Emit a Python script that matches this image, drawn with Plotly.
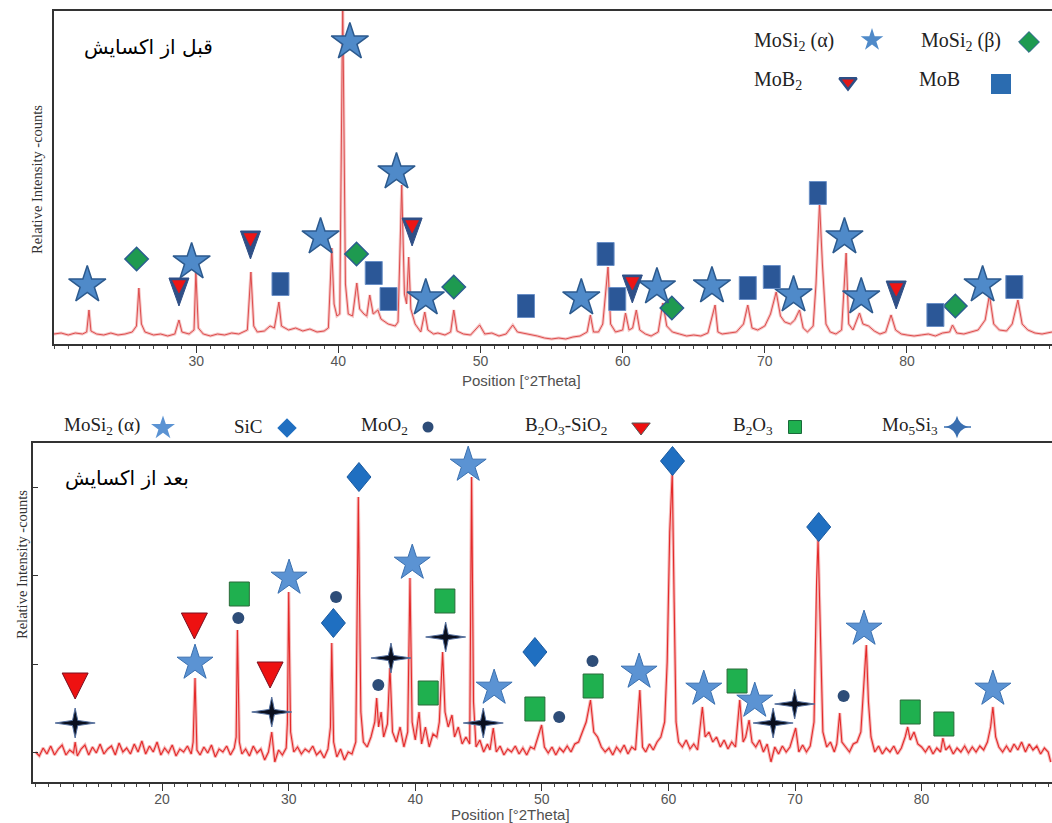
import plotly.graph_objects as go

W, H = 1052, 823

# ---------------- data: before oxidation (top panel) ----------------
top_trace = [
    (20.0, 10), (20.5, 11), (21.0, 9), (21.5, 11), (22.0, 10), (22.3, 12), (22.46, 34), (22.6, 13),
    (23.0, 10), (23.5, 9), (24.0, 11), (24.5, 9), (25.0, 10), (25.5, 12), (25.8, 18), (25.97, 56),
    (26.15, 20), (26.4, 12), (27.0, 9), (27.5, 10), (28.0, 8), (28.5, 10), (28.79, 24), (29.0, 12),
    (29.5, 10), (29.85, 14), (29.98, 72), (30.15, 16), (30.5, 10), (31.0, 8), (31.5, 10), (32.0, 9),
    (32.5, 11), (33.0, 10), (33.6, 14), (33.85, 72), (34.05, 18), (34.3, 12), (34.8, 13), (35.2, 18),
    (35.5, 16), (35.82, 42), (36.0, 18), (36.5, 14), (37.0, 16), (37.5, 13), (38.0, 15), (38.5, 12),
    (39.0, 13), (39.3, 16), (39.54, 96), (39.7, 40), (39.9, 28), (40.1, 30), (40.31, 345), (40.5, 60),
    (40.7, 30), (41.0, 28), (41.30, 61), (41.5, 35), (41.8, 30), (42.0, 28), (42.21, 49), (42.45, 30),
    (42.78, 34), (43.0, 25), (43.5, 20), (44.0, 18), (44.2, 22), (44.46, 159), (44.65, 50), (44.8, 40),
    (44.95, 87), (45.1, 35), (45.4, 20), (45.8, 12), (46.08, 32), (46.3, 14), (46.7, 10), (47.0, 11),
    (47.5, 9), (47.9, 12), (48.12, 34), (48.35, 13), (48.8, 10), (49.3, 9), (49.94, 19), (50.3, 10),
    (50.8, 11), (51.3, 8), (51.8, 10), (52.27, 19), (52.6, 12), (53.0, 11), (53.5, 9), (54.0, 8),
    (54.5, 6), (55.0, 5), (55.5, 6), (56.0, 5), (56.5, 7), (57.0, 8), (57.5, 12), (57.73, 29),
    (57.95, 12), (58.3, 12), (58.6, 20), (58.97, 77), (59.15, 20), (59.5, 12), (60.0, 14), (60.2, 31),
    (60.45, 14), (60.7, 16), (60.96, 34), (61.2, 14), (61.6, 10), (62.0, 8), (62.5, 12), (62.83, 41),
    (63.1, 18), (63.5, 12), (64.0, 10), (64.5, 8), (65.0, 9), (65.5, 8), (66.0, 11), (66.5, 39),
    (66.7, 12), (67.0, 10), (67.5, 11), (68.0, 12), (68.5, 20), (68.8, 39), (69.1, 16), (69.5, 14),
    (70.0, 18), (70.4, 30), (70.8, 52), (71.1, 28), (71.4, 22), (71.8, 20), (72.1, 24), (72.44, 34),
    (72.7, 16), (73.0, 12), (73.4, 18), (73.6, 60), (73.85, 141), (74.05, 80), (74.3, 20), (74.6, 12),
    (75.0, 10), (75.4, 14), (75.72, 91), (75.9, 20), (76.2, 14), (76.66, 31), (76.9, 20), (77.3, 18),
    (77.7, 13), (78.1, 10), (78.5, 12), (78.88, 29), (79.2, 14), (79.6, 10), (80.0, 9), (80.5, 8),
    (81.0, 9), (81.5, 10), (82.0, 8), (82.5, 11), (83.0, 12), (83.2, 19), (83.5, 11), (84.0, 10),
    (84.5, 12), (85.0, 14), (85.5, 24), (85.8, 49), (86.1, 20), (86.5, 14), (87.0, 13), (87.4, 20),
    (87.8, 44), (88.1, 20), (88.5, 14), (89.0, 11), (89.5, 10), (90.2, 12),
]

top_mosi2a_x = [22.34, 29.68, 38.75, 40.81, 44.09, 46.15, 57.09, 62.41, 66.28, 72.02, 75.6, 76.78, 85.32]
top_mosi2a_y = [59, 82, 107, 302, 172, 46, 46, 57, 58, 49, 107, 47, 59]
top_mosi2b_x = [25.81, 41.28, 48.12, 63.46, 83.4]
top_mosi2b_y = [85, 90, 57, 36, 38]
top_mob2_x = [28.79, 33.82, 45.19, 60.68, 79.24]
top_mob2_y = [54, 101, 114, 57, 51]
top_mob_x = [35.93, 42.49, 43.53, 53.2, 58.8, 59.62, 68.8, 70.49, 73.73, 82.0, 87.55]
top_mob_y = [60, 71, 45, 38, 90, 45, 56, 67, 151, 29, 57]

# ---------------- data: after oxidation (bottom panel) ----------------
bot_trace = [
    (10.0, 30), (10.3, 26), (10.6, 34), (10.9, 28), (11.2, 36), (11.5, 27), (11.8, 33), (12.1, 37),
    (12.4, 27), (12.7, 32), (13.0, 29), (13.13, 40), (13.3, 26), (13.6, 33), (13.9, 37), (14.2, 27),
    (14.5, 35), (14.8, 29), (15.1, 38), (15.4, 28), (15.7, 33), (16.0, 36), (16.3, 27), (16.6, 39),
    (16.9, 30), (17.2, 34), (17.5, 28), (17.8, 38), (18.1, 30), (18.4, 41), (18.7, 28), (19.0, 36),
    (19.3, 30), (19.6, 40), (19.9, 27), (20.2, 34), (20.5, 29), (20.8, 37), (21.1, 26), (21.4, 33),
    (21.7, 30), (22.0, 36), (22.3, 28), (22.45, 40), (22.6, 104), (22.75, 32), (23.0, 27), (23.3, 35),
    (23.6, 29), (23.9, 37), (24.2, 25), (24.5, 33), (24.8, 30), (25.1, 36), (25.4, 27), (25.7, 34),
    (25.85, 45), (25.95, 152), (26.1, 40), (26.3, 28), (26.6, 33), (26.9, 26), (27.2, 36), (27.5, 29),
    (27.8, 33), (28.1, 22), (28.4, 30), (28.66, 50), (28.9, 20), (29.2, 32), (29.5, 27), (29.8, 34),
    (29.9, 60), (30.0, 190), (30.15, 50), (30.4, 30), (30.7, 35), (31.0, 28), (31.3, 33), (31.6, 30),
    (31.9, 36), (32.2, 27), (32.5, 31), (32.8, 24), (33.1, 33), (33.3, 55), (33.4, 139), (33.55, 40),
    (33.8, 25), (34.1, 33), (34.4, 22), (34.7, 30), (35.0, 28), (35.3, 40), (35.5, 285), (35.7, 70),
    (35.9, 40), (36.2, 35), (36.5, 45), (36.8, 60), (36.95, 84), (37.1, 55), (37.3, 70), (37.5, 45),
    (37.8, 58), (38.0, 114), (38.2, 50), (38.5, 40), (38.8, 55), (39.1, 35), (39.4, 50), (39.58, 204),
    (39.75, 60), (40.0, 42), (40.3, 70), (40.5, 38), (40.8, 55), (41.1, 35), (41.4, 48), (41.7, 45),
    (41.9, 60), (42.16, 130), (42.35, 70), (42.6, 55), (42.9, 67), (43.1, 45), (43.4, 55), (43.7, 38),
    (44.0, 45), (44.3, 38), (44.45, 305), (44.6, 80), (44.8, 35), (45.1, 42), (45.4, 30), (45.7, 38),
    (45.9, 32), (46.16, 54), (46.4, 30), (46.7, 36), (47.0, 27), (47.3, 33), (47.6, 30), (47.9, 36),
    (48.2, 28), (48.5, 34), (48.8, 27), (49.1, 35), (49.4, 33), (49.7, 45), (49.98, 57), (50.2, 35),
    (50.5, 29), (50.8, 35), (51.1, 27), (51.4, 34), (51.7, 30), (52.0, 36), (52.3, 30), (52.6, 38),
    (52.9, 40), (53.2, 50), (53.5, 60), (53.84, 82), (54.1, 50), (54.4, 45), (54.7, 35), (55.0, 30),
    (55.3, 34), (55.6, 27), (55.9, 35), (56.2, 30), (56.5, 37), (56.8, 28), (57.1, 35), (57.4, 32),
    (57.74, 92), (57.95, 35), (58.2, 30), (58.5, 38), (58.8, 32), (59.1, 40), (59.4, 45), (59.7, 60),
    (59.9, 120), (60.1, 250), (60.3, 309), (60.45, 180), (60.6, 60), (60.8, 40), (61.1, 35), (61.4, 42),
    (61.7, 33), (62.0, 38), (62.3, 32), (62.68, 75), (62.9, 45), (63.2, 50), (63.5, 40), (63.8, 45),
    (64.1, 35), (64.4, 42), (64.7, 33), (65.0, 40), (65.3, 35), (65.63, 82), (65.9, 40), (66.1, 45),
    (66.37, 62), (66.6, 40), (66.9, 35), (67.2, 42), (67.5, 30), (67.8, 38), (68.1, 20), (68.4, 35),
    (68.7, 28), (69.0, 36), (69.3, 30), (69.6, 35), (70.05, 54), (70.3, 30), (70.6, 37), (70.9, 30),
    (71.2, 36), (71.5, 60), (71.7, 200), (71.82, 242), (72.0, 150), (72.2, 50), (72.5, 35), (72.8, 40),
    (73.1, 30), (73.3, 38), (73.53, 69), (73.7, 40), (74.0, 35), (74.3, 30), (74.6, 38), (74.9, 40),
    (75.2, 50), (75.45, 100), (75.63, 137), (75.8, 80), (76.0, 45), (76.3, 30), (76.6, 36), (76.9, 28),
    (77.2, 34), (77.5, 30), (77.8, 36), (78.1, 28), (78.4, 34), (78.7, 45), (78.9, 55), (79.1, 42),
    (79.4, 50), (79.7, 38), (80.0, 35), (80.3, 30), (80.6, 36), (80.9, 28), (81.2, 34), (81.5, 30),
    (81.68, 44), (81.9, 32), (82.2, 36), (82.5, 28), (82.8, 34), (83.1, 30), (83.4, 36), (83.7, 29),
    (84.0, 35), (84.3, 30), (84.6, 36), (84.9, 32), (85.2, 40), (85.45, 55), (85.63, 75), (85.85, 45),
    (86.1, 35), (86.4, 30), (86.7, 36), (87.0, 30), (87.3, 38), (87.6, 32), (87.9, 40), (88.2, 30),
    (88.5, 38), (88.8, 32), (89.1, 36), (89.4, 28), (89.7, 34), (90.0, 30), (90.2, 20),
]

bot_mosi2a_x = [22.6, 30.03, 39.76, 44.18, 46.23, 57.68, 62.79, 66.82, 75.45, 85.63]
bot_mosi2a_y = [119, 204, 219, 317, 94, 110, 93, 81, 153, 93]
bot_sic_x = [33.53, 35.55, 49.45, 60.32, 71.87]
bot_sic_y = [159, 305, 130, 321, 255]
bot_moo2_x = [26.02, 33.74, 37.08, 51.37, 54.0, 73.84]
bot_moo2_y = [164, 185, 97, 65, 121, 86]
bot_b2o3sio2_x = [13.13, 22.55, 28.53]
bot_b2o3sio2_y = [97, 157, 108]
bot_b2o3_x = [26.1, 41.02, 42.34, 49.45, 54.05, 65.42, 79.1, 81.76]
bot_b2o3_y = [188, 89, 181, 73, 96, 101, 70, 58]
bot_mo5si3_x = [13.13, 28.66, 38.08, 42.4, 45.37, 68.27, 69.97]
bot_mo5si3_y = [59, 70, 124, 145, 59, 59, 78]

x_ticks_top = [30, 40, 50, 60, 70, 80]
x_ticks_bot = [20, 30, 40, 50, 60, 70, 80]

# ---------------- figure ----------------
fig = go.Figure()
shapes = []


def px_x(p):
    return p / W


def px_y(p):
    return 1 - p / H


# traces: light underlay + thin red line (scanned XRD look)
fig.add_trace(go.Scatter(x=[p[0] for p in top_trace], y=[p[1] for p in top_trace], mode="lines",
                         line=dict(color="rgba(236,150,150,0.55)", width=3), xaxis="x", yaxis="y",
                         hoverinfo="skip"))
fig.add_trace(go.Scatter(x=[p[0] for p in top_trace], y=[p[1] for p in top_trace], mode="lines",
                         line=dict(color="#de4d4d", width=1), xaxis="x", yaxis="y", hoverinfo="skip"))
fig.add_trace(go.Scatter(x=[p[0] for p in bot_trace], y=[p[1] for p in bot_trace], mode="lines",
                         line=dict(color="rgba(238,140,140,0.6)", width=3.2), xaxis="x2", yaxis="y2",
                         hoverinfo="skip"))
fig.add_trace(go.Scatter(x=[p[0] for p in bot_trace], y=[p[1] for p in bot_trace], mode="lines",
                         line=dict(color="#e42a2a", width=1.1), xaxis="x2", yaxis="y2", hoverinfo="skip"))


def mk(x, y, ax, ay, symbol, size, color, lcolor, lwidth):
    fig.add_trace(go.Scatter(x=x, y=y, mode="markers", xaxis=ax, yaxis=ay, cliponaxis=False,
                             marker=dict(symbol=symbol, size=size, color=color,
                                         line=dict(color=lcolor, width=lwidth)), hoverinfo="skip"))


def path_of(pts):
    return "M" + "L".join(f"{a},{b}" for a, b in pts) + "Z"


def glyph(xs, ys, xref, yref, pts, fill, lcolor, lwidth):
    # glyph drawn at each data point (anchor in data units, outline in pixels)
    for xv, yv in zip(xs, ys):
        shapes.append(dict(type="path", xref=xref, yref=yref, xsizemode="pixel", ysizemode="pixel",
                           xanchor=xv, yanchor=yv, path=path_of(pts), fillcolor=fill,
                           line=dict(color=lcolor, width=lwidth), layer="above"))


# glyph outlines (pixel offsets, y up)
TALL_TRI = [(-10, 12), (10, 12), (0, -16)]
TALL_TRI_IN = [(-6.5, 9.5), (6.5, 9.5), (0, -3)]
RECT_T = [(-8.5, -11.5), (8.5, -11.5), (8.5, 11.5), (-8.5, 11.5)]
TRI_B = [(-13, 12), (13, 12), (0, -14)]
RECT_B = [(-10, -12), (10, -12), (10, 12), (-10, 12)]
DIAM_B = [(-12, 0), (0, 14.5), (12, 0), (0, -14.5)]
STAR4 = [(-20, 0), (-2.6, 2.6), (0, 15), (2.6, 2.6), (20, 0), (2.6, -2.6), (0, -15), (-2.6, -2.6)]

# top markers
mk(top_mosi2b_x, top_mosi2b_y, "x", "y", "diamond", 18, "#1e9a50", "#2b5d8f", 1.5)
mk(top_mosi2a_x, top_mosi2a_y, "x", "y", "star", 28, "#4f8ac9", "#2c5a8e", 1.5)
glyph(top_mob_x, top_mob_y, "x", "y", RECT_T, "#2b5797", "#6a8fc6", 1)
glyph(top_mob2_x, top_mob2_y, "x", "y", TALL_TRI, "#2f4f86", "#2f4f86", 1)
glyph(top_mob2_x, top_mob2_y, "x", "y", TALL_TRI_IN, "#ee1515", "#ee1515", 0.5)

# bottom markers
mk(bot_moo2_x, bot_moo2_y, "x2", "y2", "circle", 12, "#2e4d78", "#2e4d78", 0)
mk(bot_mosi2a_x, bot_mosi2a_y, "x2", "y2", "star", 27, "#5b93d3", "#3a70b0", 1)
glyph(bot_b2o3_x, bot_b2o3_y, "x2", "y2", RECT_B, "#1fb04f", "#2a6a3a", 1)
glyph(bot_sic_x, bot_sic_y, "x2", "y2", DIAM_B, "#1f6fc1", "#1a5aa0", 1)
glyph(bot_b2o3sio2_x, bot_b2o3sio2_y, "x2", "y2", TRI_B, "#ee1111", "#7a1020", 1)
glyph(bot_mo5si3_x, bot_mo5si3_y, "x2", "y2", STAR4, "#0a0f1e", "#56719f", 1)


# legend keys (overlay axis in pixel units)
def key(xp, yp, symbol, size, color, lcolor, lwidth):
    mk([xp], [yp], "x3", "y3", symbol, size, color, lcolor, lwidth)


key(872, 40, "star", 17, "#4f8ac9", "#4f8ac9", 0)
key(1029, 42, "diamond", 16, "#1e9a50", "#2b5d8f", 1)
key(848, 82, "triangle-down", 15, "#e01818", "#2d4f86", 2.5)
key(1001, 84, "square", 20, "#2b6cb0", "#2b6cb0", 0)
key(163, 428, "star", 18, "#5b93d3", "#5b93d3", 0)
key(287, 428, "diamond", 15, "#1f6fc1", "#1f6fc1", 0)
key(428, 427, "circle", 11, "#2e4d78", "#2e4d78", 0)
key(641, 427, "triangle-down", 16, "#ee1111", "#555555", 1)
key(795, 427, "square", 13, "#1fb04f", "#1a6a3a", 1)
fig.add_trace(go.Scatter(x=[944, 971], y=[427, 427], mode="lines", xaxis="x3", yaxis="y3",
                         line=dict(color="#3a6fb0", width=1.5), hoverinfo="skip"))
key(957, 427, "star-diamond", 16, "#3a6fb0", "#3a6fb0", 0)

# ---------------- layout ----------------
AX_LINE = "#333333"
TICKFONT = dict(family="Liberation Sans, Arial", size=14, color="#555555")

common_x = dict(showline=True, linecolor=AX_LINE, linewidth=2, mirror=True, ticks="outside",
                ticklen=7, tickcolor=AX_LINE, tickfont=TICKFONT, showgrid=False, zeroline=False,
                ticklabelstandoff=-4,
                minor=dict(dtick=1, ticks="outside", ticklen=3, tickcolor="#444444", showgrid=False))

fig.update_layout(
    width=W, height=H, margin=dict(l=0, r=0, t=0, b=0),
    paper_bgcolor="white", plot_bgcolor="rgba(0,0,0,0)", showlegend=False,
    xaxis=dict(domain=[px_x(54), 1], range=[20, 90.2], anchor="y", tickvals=x_ticks_top, **common_x),
    yaxis=dict(domain=[px_y(344), px_y(11)], range=[0, 333], anchor="x", showline=True,
               linecolor=AX_LINE, linewidth=2, showticklabels=False, ticks="", showgrid=False,
               zeroline=False),
    xaxis2=dict(domain=[px_x(33), 1], range=[9.8, 90.3], anchor="y2", tickvals=x_ticks_bot, **common_x),
    yaxis2=dict(domain=[px_y(782), px_y(443)], range=[0, 339], anchor="x2", showline=True,
                linecolor=AX_LINE, linewidth=2, showticklabels=False, ticks="inside", ticklen=5,
                tickcolor=AX_LINE, tick0=29.5, dtick=88.3, showgrid=False, zeroline=False),
    xaxis3=dict(domain=[0, 1], range=[0, W], anchor="y3", visible=False),
    yaxis3=dict(domain=[0, 1], range=[H, 0], anchor="x3", visible=False),
    shapes=shapes,
)

SERIF = "Liberation Serif, DejaVu Serif, Times New Roman"
ann = []


def text(xp, yp, s, size=20, family=SERIF, color="#222222", xanchor="left", textangle=0):
    ann.append(dict(x=xp, y=yp, xref="x3", yref="y3", text=s, showarrow=False, xanchor=xanchor,
                    yanchor="middle", textangle=textangle,
                    font=dict(family=family, size=size, color=color)))


# legends
text(752, 41, "MoSi<sub>2</sub> (α)")
text(919, 41, "MoSi<sub>2</sub> (β)")
text(752, 80, "MoB<sub>2</sub>")
text(917, 79, "MoB")
text(62, 426, "MoSi<sub>2</sub> (α)", size=19)
text(232, 426, "SiC", size=19)
text(359, 426, "MoO<sub>2</sub>", size=19)
text(523, 426, "B<sub>2</sub>O<sub>3</sub>-SiO<sub>2</sub>", size=19)
text(731, 426, "B<sub>2</sub>O<sub>3</sub>", size=19)
text(880, 426, "Mo<sub>5</sub>Si<sub>3</sub>", size=19)

# panel titles
text(148, 47, "قبل از اکسایش", size=20, family="DejaVu Sans", color="#000000", xanchor="center")
text(127, 478, "بعد از اکسایش", size=20, family="DejaVu Sans", color="#000000", xanchor="center")

# axis titles
text(37, 180, "Relative Intensity -counts", size=14.5, family=SERIF, color="#333333",
     xanchor="center", textangle=-90)
text(22, 565, "Relative Intensity -counts", size=14.5, family=SERIF, color="#333333",
     xanchor="center", textangle=-90)
text(521, 380, "Position [°2Theta]", size=15, family="Liberation Sans, Arial", color="#505050",
     xanchor="center")
text(510, 814, "Position [°2Theta]", size=15, family="Liberation Sans, Arial", color="#505050",
     xanchor="center")

fig.update_layout(annotations=ann)

fig.write_html("out.html", config={"displayModeBar": False},
               post_script="document.body.style.margin='0';document.body.style.overflow='hidden';")
